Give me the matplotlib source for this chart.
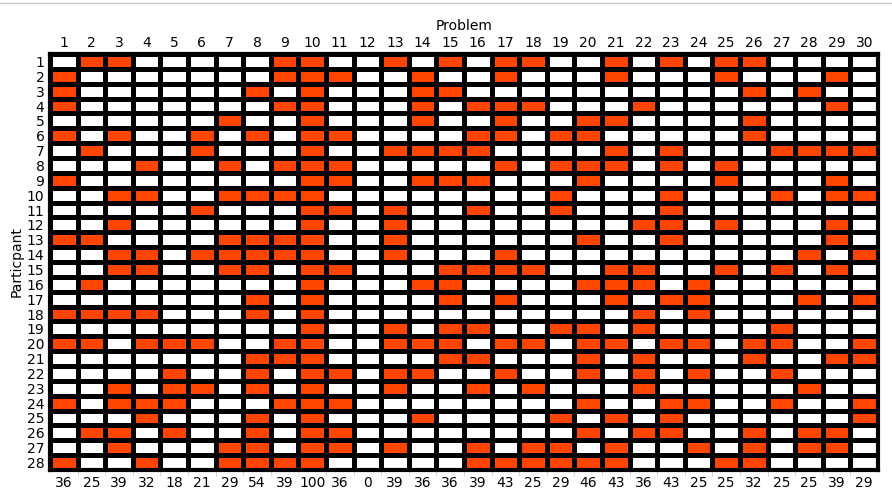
import numpy as np
import matplotlib
matplotlib.use("Agg")
from matplotlib import pyplot as plt
from matplotlib.colors import ListedColormap
from matplotlib.ticker import FixedLocator

# problems solved (1-based problem numbers) per participant
solved = [
    [2, 3, 9, 10, 13, 15, 17, 18, 21, 23, 25, 26],
    [1, 9, 10, 11, 14, 17, 21, 25, 29],
    [1, 8, 10, 14, 15, 26, 28],
    [1, 9, 10, 14, 16, 17, 18, 22, 29],
    [7, 10, 14, 17, 20, 21, 26],
    [1, 3, 6, 8, 10, 11, 16, 17, 19, 20, 26],
    [2, 6, 10, 13, 14, 15, 16, 21, 23, 27, 28, 29, 30],
    [4, 7, 9, 10, 11, 17, 19, 20, 21, 23, 25],
    [1, 10, 11, 14, 15, 16, 20, 25, 29],
    [3, 4, 7, 8, 9, 10, 19, 23, 27, 29, 30],
    [6, 10, 11, 13, 16, 19, 23],
    [3, 10, 13, 22, 23, 25, 29],
    [1, 2, 7, 8, 9, 10, 13, 20, 23, 29],
    [3, 4, 6, 7, 8, 9, 10, 13, 17, 28, 30],
    [3, 4, 7, 8, 10, 11, 15, 16, 17, 18, 21, 22, 25, 27, 29],
    [2, 10, 14, 15, 20, 21, 22, 24],
    [8, 10, 15, 17, 21, 23, 24, 28, 30],
    [1, 2, 3, 4, 8, 10, 22, 24],
    [10, 13, 15, 16, 19, 20, 22, 27],
    [1, 2, 4, 5, 6, 9, 10, 13, 14, 15, 17, 18, 20, 21, 23, 24, 26, 27, 30],
    [8, 9, 10, 15, 16, 20, 22, 26, 29, 30],
    [5, 8, 10, 11, 13, 14, 17, 20, 22, 24, 27],
    [3, 5, 6, 8, 10, 13, 16, 18, 22, 28],
    [1, 3, 4, 5, 9, 10, 11, 20, 23, 24, 27, 30],
    [4, 8, 10, 14, 19, 21, 23, 30],
    [2, 3, 5, 8, 10, 11, 20, 22, 23, 26, 28, 29],
    [3, 7, 8, 10, 11, 13, 16, 18, 19, 21, 24, 26, 28, 29],
    [1, 4, 7, 8, 9, 10, 16, 17, 18, 19, 20, 21, 25, 26],
]
n_problems = 30
problems = list(range(1, n_problems + 1))
participants = list(range(1, len(solved) + 1))

grid = np.zeros((len(solved), n_problems))
for i, row in enumerate(solved):
    for p in row:
        grid[i, p - 1] = 1

pct = np.round(grid.mean(axis=0) * 100).astype(int)

fig = plt.figure(figsize=(8.92, 4.91), dpi=100)
ax = fig.add_axes([50 / 892, 21 / 491, 828 / 892, 416 / 491])

cmap = ListedColormap(["white", "orangered"])
ax.pcolormesh(grid, cmap=cmap, vmin=0, vmax=1, edgecolors="k", linewidth=3.3)
ax.set_xlim(0, n_problems)
ax.set_ylim(len(solved), 0)

for s in ax.spines.values():
    s.set_linewidth(3)

centers_x = np.arange(n_problems) + 0.5
centers_y = np.arange(len(solved)) + 0.5

ax.set_yticks(centers_y)
ax.set_yticklabels([str(p) for p in participants], fontsize=10)
ax.set_ylabel("Particpant", fontsize=10, labelpad=2)

ax.set_xticks(centers_x)
ax.set_xticklabels([str(v) for v in pct], fontsize=10)
ax.tick_params(axis="both", length=0, pad=4)
ax.xaxis.set_minor_locator(FixedLocator(np.arange(1, n_problems)))
ax.tick_params(axis="x", which="minor", length=4, color="#d0d0d0", direction="out")

top = ax.secondary_xaxis("top")
top.set_xticks(centers_x)
top.set_xticklabels([str(p) for p in problems], fontsize=10)
top.tick_params(length=0, pad=3)
top.set_xlabel("Problem", fontsize=10, labelpad=4)
top.spines["top"].set_visible(False)

# thin window edge at the top of the screenshot
fig.add_artist(plt.Line2D([0, 1], [1 - 3 / 491, 1 - 3 / 491], color="#c8c8c8", linewidth=1))

plt.savefig("out.png", dpi=100)
plt.close()
